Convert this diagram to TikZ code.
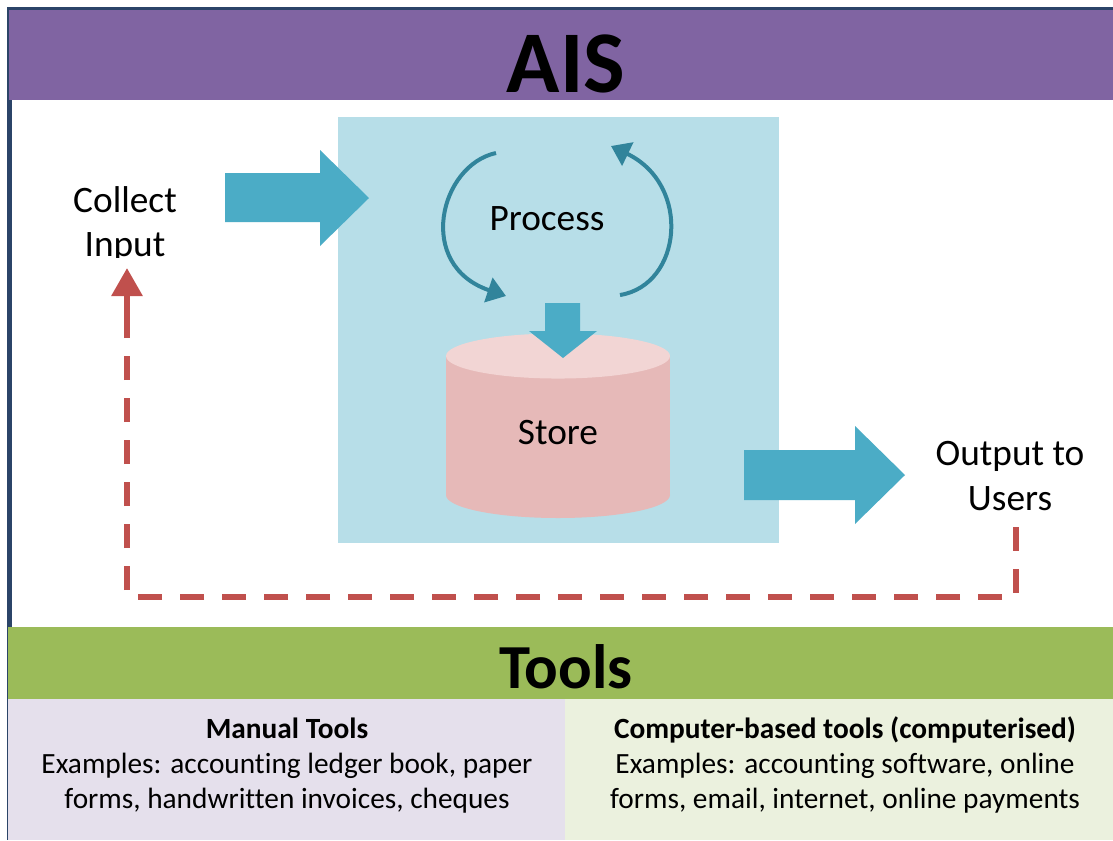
\documentclass[tikz,border=0pt]{standalone}
\usepackage{fontspec}
\setmainfont{Carlito}[Ligatures=NoCommon]
\usetikzlibrary{arrows.meta}
\definecolor{frame}{HTML}{2B4468}
\definecolor{purplebar}{HTML}{8064A2}
\definecolor{greenbar}{HTML}{9BBB59}
\definecolor{lavender}{HTML}{E5E0EC}
\definecolor{palegreen}{HTML}{EBF1DE}
\definecolor{procbox}{HTML}{B7DEE8}
\definecolor{blockarrow}{HTML}{4BACC6}
\definecolor{cyclearc}{HTML}{31849B}
\definecolor{cylbody}{HTML}{E6B9B8}
\definecolor{cyltop}{HTML}{F2D5D4}
\definecolor{feedbackred}{HTML}{C0504D}
\tikzset{
  lbl/.style={anchor=base, inner sep=0pt, text=black, font=\fontsize{28}{34}\selectfont},
  smalllbl/.style={anchor=base, inner sep=0pt, text=black, font=\fontsize{22}{26}\selectfont},
  boldlbl/.style={smalllbl, font=\fontsize{22}{26}\selectfont\bfseries},
  cyclearrow/.style={draw=cyclearc, line width=3pt, -{Triangle[length=14pt,width=19pt]}},
  feedback/.style={draw=feedbackred, line width=4.5pt, dash pattern=on 18pt off 13.5pt},
  feedbacktip/.style={draw=feedbackred, line width=4.5pt, -{Triangle[length=21pt,width=22.5pt]}},
  blockfill/.style={fill=blockarrow, draw=none}
}
\begin{document}
\begin{tikzpicture}[x=0.75pt,y=-0.75pt]
\useasboundingbox (0,0) rectangle (1113,840);
% frame and bands
\fill[frame] (6.5,7.3) rectangle (1113,840);
\fill[purplebar] (9,10) rectangle (1113,100);
\fill[white] (11.5,100) rectangle (1113,627);
\fill[greenbar] (7.5,627) rectangle (1113,699);
\fill[lavender] (7.5,699) rectangle (565,840);
\fill[palegreen] (565,699) rectangle (1113,840);
% titles
\node[anchor=base, inner sep=0pt, font=\fontsize{66}{70}\selectfont\bfseries] (title) at (566,92) {AIS};
\node[anchor=base, inner sep=0pt, font=\fontsize{47}{50}\selectfont\bfseries] (tools) at (566,688) {Tools};
% process box
\fill[procbox] (338,117) rectangle (779,543);
% input arrow
\fill[blockfill] (225,173) -- (320,173) -- (320,150) -- (369,198) -- (320,246) -- (320,222) -- (225,222) -- cycle;
% output arrow
\fill[blockfill] (744,450) -- (855,450) -- (855,426) -- (905,475) -- (855,524) -- (855,500) -- (744,500) -- cycle;
% cylinder
\fill[cylbody] (446,356) rectangle (670,495);
\fill[cylbody] (558,495) ellipse [x radius=84pt, y radius=17.25pt];
\fill[cyltop] (558,356) ellipse [x radius=84pt, y radius=16.9pt];
% down arrow
\fill[blockfill] (545,303) -- (580,303) -- (580,331) -- (597,331) -- (563,358) -- (529,331) -- (545,331) -- cycle;
% cycle arcs
\coordinate (lstart) at (496,153);
\coordinate (lend) at (506,296);
\coordinate (rstart) at (620,295);
\coordinate (rend) at (611,146);
\draw[cyclearrow] (lstart) .. controls (440,165) and (415,265) .. (lend);
\draw[cyclearrow] (rstart) .. controls (682,285) and (692,185) .. (rend);
% texts
\begin{scope}
\clip (0,100) rectangle (338,257);
\node[lbl] (collect) at (125,212) {Collect};
\node[lbl] (input) at (125,256) {Input};
\end{scope}
\node[lbl] (process) at (547,230) {Process};
\node[lbl] (store) at (558,444) {Store};
\node[lbl] (output) at (1010,465) {Output to};
\node[lbl] (users) at (1010,510) {Users};
% feedback dashed connector
\coordinate (outbot) at (1016,527);
\coordinate (inbot) at (127,268);
\coordinate (inlow) at (127,318);
\draw[feedback] (outbot) -- (1016,597) -| (inlow);
\draw[feedbacktip] (inlow) -- (inbot);
% bottom texts
\node[boldlbl] (manualhead) at (287,738) {Manual Tools};
\node[smalllbl] (manual1) at (287,773) {Examples: accounting ledger book, paper};
\node[smalllbl] (manual2) at (287,808) {forms, handwritten invoices, cheques};
\node[boldlbl] (comphead) at (845,738) {Computer-based tools (computerised)};
\node[smalllbl] (comp1) at (845,773) {Examples: accounting software, online};
\node[smalllbl] (comp2) at (845,808) {forms, email, internet, online payments};
\end{tikzpicture}
\end{document}
